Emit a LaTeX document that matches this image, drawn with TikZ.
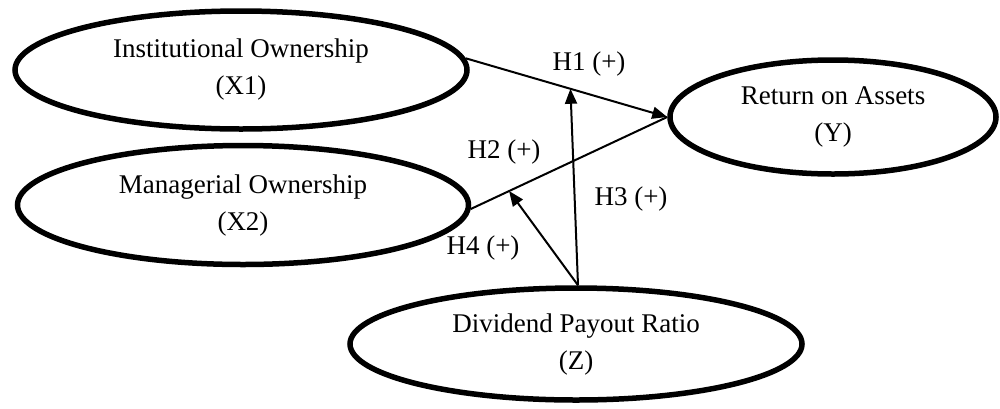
\documentclass[tikz,border=0pt]{standalone}
\usepackage{fontspec}
\setmainfont{Liberation Serif}
\usetikzlibrary{shapes.geometric,arrows.meta}
\begin{document}
\begin{tikzpicture}[x=1pt,y=-1pt,
  var/.style={ellipse,draw,line width=5.5pt,inner sep=0pt,align=center,
    font=\fontsize{27}{37}\selectfont},
  lbl/.style={inner sep=0pt,font=\fontsize{27}{32}\selectfont},
  path/.style={line width=2pt},
  arr/.style={line width=2pt,-{Triangle[length=15pt,width=12pt]}}]
\useasboundingbox (0,0) rectangle (1000,408);
\node[var,minimum width=452pt,minimum height=118pt] (X1) at (241,70) {Institutional Ownership\\(X1)};
\node[var,minimum width=451pt,minimum height=119pt] (X2) at (243,205) {Managerial Ownership\\(X2)};
\node[var,minimum width=326pt,minimum height=114pt] (Y) at (833,117) {Return on Assets\\(Y)};
\node[var,minimum width=452pt,minimum height=112pt] (Z) at (576,344) {Dividend Payout Ratio\\(Z)};
\draw[arr] (X1.3) -- (Y.west) coordinate[pos=0.52] (h1);
\draw[path] (X2.-1) -- (Y.west) coordinate[pos=0.195] (h2);
\draw[arr] (Z.north) ++(2,0) coordinate (zs) -- (h1);
\draw[arr] (zs) -- (h2);
\node[lbl] (L1) at (589,64) {H1 (+)};
\node[lbl] (L2) at (504,152) {H2 (+)};
\node[lbl] (L3) at (631,199) {H3 (+)};
\node[lbl] (L4) at (483,248) {H4 (+)};
\end{tikzpicture}
\end{document}
